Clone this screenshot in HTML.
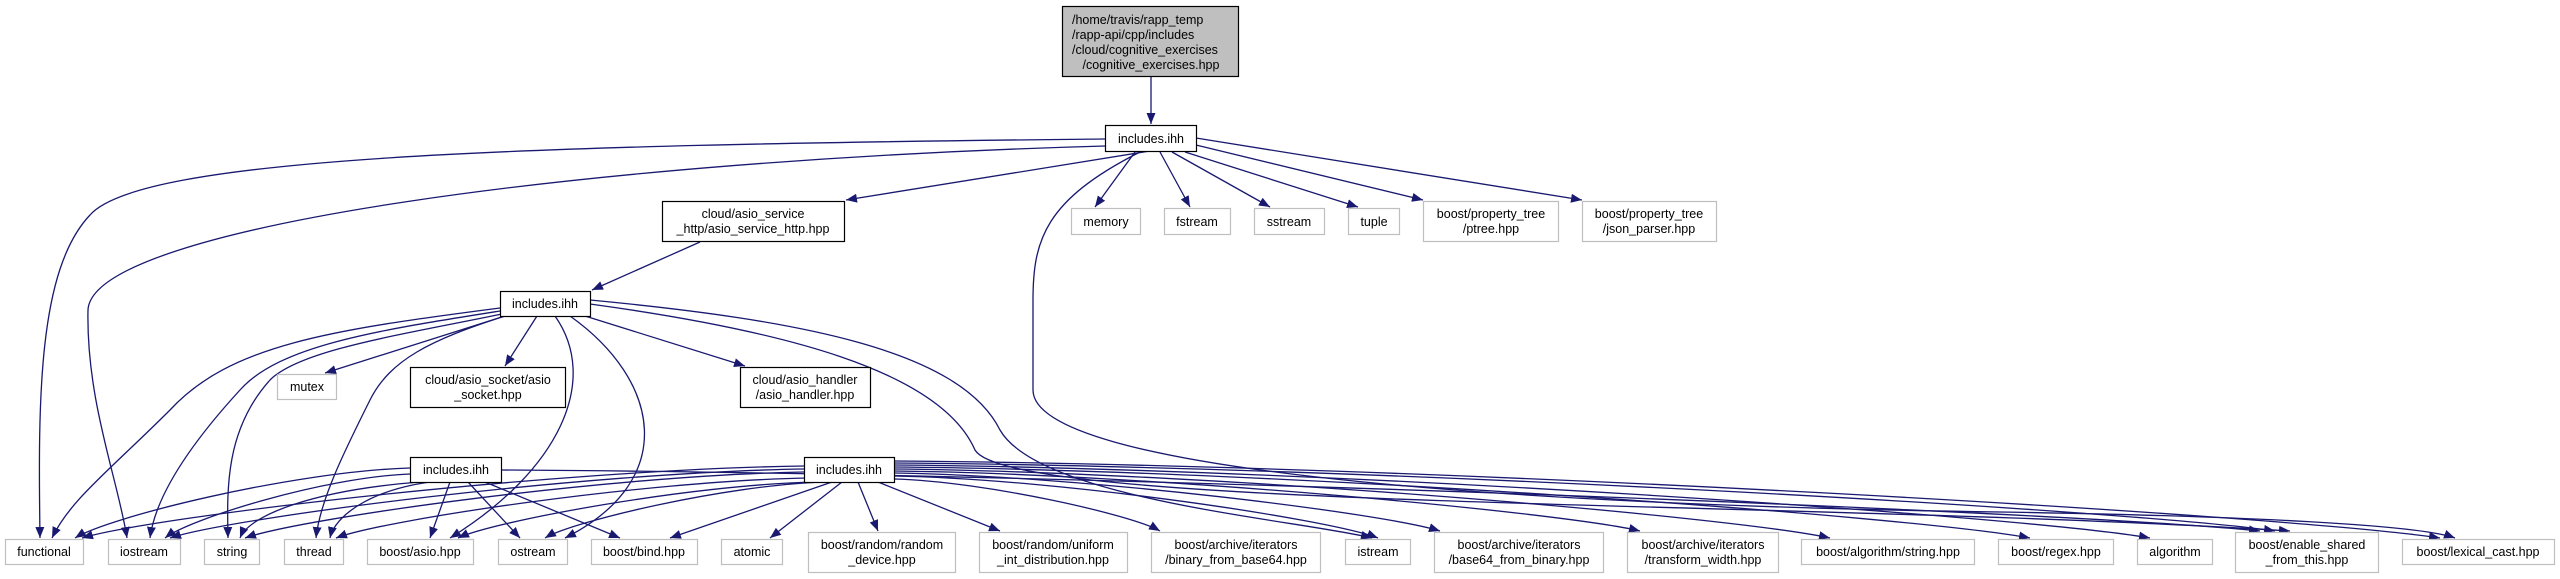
<!DOCTYPE html>
<html><head><meta charset="utf-8">
<style>
html,body{margin:0;padding:0;background:#fff;width:2560px;height:579px;overflow:hidden}
svg text{font-family:"Liberation Sans",sans-serif;font-size:12.5px;fill:#000;text-anchor:middle}
</style></head>
<body>
<svg id="g" width="2560" height="579" xmlns="http://www.w3.org/2000/svg">
<defs>
<marker id="a" markerUnits="userSpaceOnUse" markerWidth="14" markerHeight="12" refX="11" refY="4.5" orient="auto">
<path d="M0,0 L11,4.5 L0,9 z" fill="#191970"/>
</marker>
</defs>
<g id="edges" fill="none" stroke="#191970" stroke-width="1.3"></g>
<g stroke-width="1.2">
<rect x="1062.5" y="6.5" width="176" height="70" fill="#bfbfbf" stroke="#000"/>
<text x="1072" y="24" style="text-anchor:start">/home/travis/rapp_temp</text>
<text x="1072" y="39" style="text-anchor:start">/rapp-api/cpp/includes</text>
<text x="1072" y="54" style="text-anchor:start">/cloud/cognitive_exercises</text>
<text x="1151" y="69">/cognitive_exercises.hpp</text>
<rect x="1105.5" y="125.5" width="91" height="26" fill="#fff" stroke="#000"/>
<text x="1151" y="143">includes.ihh</text>
<rect x="662.5" y="201.5" width="182" height="40" fill="#fff" stroke="#000"/>
<text x="753" y="218">cloud/asio_service</text>
<text x="753" y="233">_http/asio_service_http.hpp</text>
<rect x="500.5" y="291.5" width="90" height="25" fill="#fff" stroke="#000"/>
<text x="545" y="308">includes.ihh</text>
<rect x="410.5" y="367.5" width="155" height="40" fill="#fff" stroke="#000"/>
<text x="488" y="384">cloud/asio_socket/asio</text>
<text x="488" y="399">_socket.hpp</text>
<rect x="740.5" y="367.5" width="130" height="40" fill="#fff" stroke="#000"/>
<text x="805" y="384">cloud/asio_handler</text>
<text x="805" y="399">/asio_handler.hpp</text>
<rect x="410.5" y="457.5" width="91" height="25" fill="#fff" stroke="#000"/>
<text x="456" y="474">includes.ihh</text>
<rect x="804.5" y="457.5" width="90" height="25" fill="#fff" stroke="#000"/>
<text x="849" y="474">includes.ihh</text>
<g fill="#fff" stroke="#bfbfbf">
<rect x="1071.5" y="208.5" width="69" height="26"/>
<rect x="1164.5" y="208.5" width="66" height="26"/>
<rect x="1254.5" y="208.5" width="70" height="26"/>
<rect x="1348.5" y="208.5" width="51" height="26"/>
<rect x="1423.5" y="201.5" width="135" height="40"/>
<rect x="1582.5" y="201.5" width="134" height="40"/>
<rect x="277.5" y="374.5" width="59" height="25"/>
<rect x="5.5" y="539.5" width="78" height="25"/>
<rect x="108.5" y="539.5" width="72" height="25"/>
<rect x="204.5" y="539.5" width="55" height="25"/>
<rect x="284.5" y="539.5" width="59" height="25"/>
<rect x="367.5" y="539.5" width="106" height="25"/>
<rect x="498.5" y="539.5" width="69" height="25"/>
<rect x="591.5" y="539.5" width="106" height="25"/>
<rect x="721.5" y="539.5" width="61" height="25"/>
<rect x="808.5" y="532.5" width="147" height="40"/>
<rect x="979.5" y="532.5" width="148" height="40"/>
<rect x="1151.5" y="532.5" width="169" height="40"/>
<rect x="1345.5" y="539.5" width="65" height="25"/>
<rect x="1434.5" y="532.5" width="169" height="40"/>
<rect x="1627.5" y="532.5" width="151" height="40"/>
<rect x="1801.5" y="539.5" width="173" height="25"/>
<rect x="1998.5" y="539.5" width="115" height="25"/>
<rect x="2137.5" y="539.5" width="75" height="25"/>
<rect x="2235.5" y="532.5" width="143" height="40"/>
<rect x="2402.5" y="539.5" width="152" height="25"/>
</g>
</g>
<g>
<text x="1106" y="226">memory</text>
<text x="1197" y="226">fstream</text>
<text x="1289" y="226">sstream</text>
<text x="1374" y="226">tuple</text>
<text x="1491" y="218">boost/property_tree</text>
<text x="1491" y="233">/ptree.hpp</text>
<text x="1649" y="218">boost/property_tree</text>
<text x="1649" y="233">/json_parser.hpp</text>
<text x="307" y="391">mutex</text>
<text x="44" y="556">functional</text>
<text x="144" y="556">iostream</text>
<text x="232" y="556">string</text>
<text x="314" y="556">thread</text>
<text x="420" y="556">boost/asio.hpp</text>
<text x="533" y="556">ostream</text>
<text x="644" y="556">boost/bind.hpp</text>
<text x="752" y="556">atomic</text>
<text x="882" y="549">boost/random/random</text>
<text x="882" y="564">_device.hpp</text>
<text x="1053" y="549">boost/random/uniform</text>
<text x="1053" y="564">_int_distribution.hpp</text>
<text x="1236" y="549">boost/archive/iterators</text>
<text x="1236" y="564">/binary_from_base64.hpp</text>
<text x="1378" y="556">istream</text>
<text x="1519" y="549">boost/archive/iterators</text>
<text x="1519" y="564">/base64_from_binary.hpp</text>
<text x="1703" y="549">boost/archive/iterators</text>
<text x="1703" y="564">/transform_width.hpp</text>
<text x="1888" y="556">boost/algorithm/string.hpp</text>
<text x="2056" y="556">boost/regex.hpp</text>
<text x="2175" y="556">algorithm</text>
<text x="2307" y="549">boost/enable_shared</text>
<text x="2307" y="564">_from_this.hpp</text>
<text x="2478" y="556">boost/lexical_cast.hpp</text>
</g>
</svg>
<script>
(function(){
var g=document.getElementById('edges'),NS='http://www.w3.org/2000/svg';
function P(d){var p=document.createElementNS(NS,'path');p.setAttribute('d',d);p.setAttribute('marker-end','url(#a)');g.appendChild(p);}
function E(x1,y1,x2,y2,h){var dx=x2-x1,dy=y2-y1,c1x,c1y,c2x,c2y;
 if(h){c1x=x1+dx*0.35;c1y=y1+dy*0.05;c2x=x2-dx*0.1;c2y=y2-Math.max(12,dy*0.3);}
 else{c1x=x1+dx*0.6;c1y=y1+dy*0.15;c2x=x2-dx*0.05;c2y=y2-dy*0.4;}
 P('M'+x1+','+y1+' C'+c1x+','+c1y+' '+c2x+','+c2y+' '+x2+','+y2);}
function L(x1,y1,x2,y2){P('M'+x1+','+y1+' L'+x2+','+y2);}
L(1151,77,1151,124);
P('M1105,139 C500,145 140,158 90,215 C38,270 38,400 40,538');
P('M1105,146 C600,160 92,225 88,310 C86,400 118,480 127,538');
L(1150,151,846,200);
P('M1140,152 C1045,200 1033,240 1033,300 L1033,390 C1033,470 1500,505 2000,512 C2250,516 2420,525 2455,538');
L(1135,152,1095,207);L(1160,152,1190,207);L(1172,152,1270,207);L(1185,152,1358,207);
L(1196,145,1423,200);L(1196,138,1582,200);
L(700,242,592,290);
P('M500,308 C330,330 230,345 170,410 C110,470 70,500 52,538');
P('M500,311 C380,330 280,345 240,390 C185,450 155,500 150,538');
P('M502,314 C400,335 300,350 270,380 C225,430 227,490 228,538');
P('M505,316 C430,340 390,360 370,400 C345,450 320,500 316,538');
L(505,316,325,373);L(537,316,505,366);
P('M555,316 C600,380 560,470 450,538');
P('M570,316 C660,380 680,480 565,538');
L(585,316,745,366);
P('M590,300 C800,320 960,350 1000,430 C1040,500 1300,520 1372,538');
P('M590,304 C780,330 940,370 975,450 C1010,510 1800,500 2290,531');
E(410,468,75,538,1);E(410,474,165,538,1);E(420,482,240,538);E(430,482,330,538);
L(450,482,430,538);L(468,482,520,538);L(485,482,620,538);
E(501,470,2260,531,1);
E(804,466,82,538,1);E(804,469,170,538,1);E(804,472,245,538,1);E(808,478,336,538,1);
E(815,482,458,538,1);E(825,482,545,538,1);L(832,482,670,538);L(842,482,770,538);L(858,482,878,531);
L(878,482,1000,531);E(894,479,1160,531,1);E(894,476,1378,538,1);E(894,473,1440,531,1);
E(894,471,1640,531,1);E(894,469,1830,538,1);E(894,467,2030,538,1);E(894,465,2150,538,1);
E(894,463,2275,531,1);E(894,461,2440,538,1);
})();
</script>
</body></html>
